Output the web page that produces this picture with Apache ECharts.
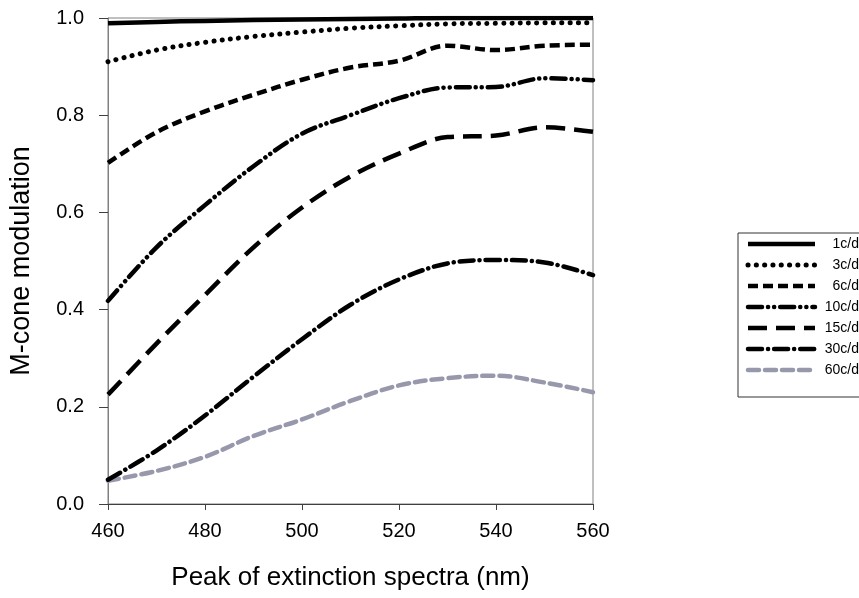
<!DOCTYPE html>
<html>
<head>
<meta charset="utf-8">
<script src="https://cdn.jsdelivr.net/npm/echarts@6/dist/echarts.min.js"></script>
<style>
  html, body { margin: 0; padding: 0; background: #fff; }
  #chart { width: 859px; height: 598px; }
</style>
</head>
<body>
<div id="chart"></div>
<script>
// Peak wavelength of the M-cone extinction spectrum (nm)
const wavelengths = [460, 470, 480, 490, 500, 510, 520, 530, 540, 550, 560];

// M-cone modulation for each spatial frequency
const seriesNames = ['1c/d', '3c/d', '6c/d', '10c/d', '15c/d', '30c/d', '60c/d'];
const mod1 = [0.989, 0.992, 0.994, 0.996, 0.997, 0.998, 0.999, 1.0, 1.0, 1.0, 1.0];
const mod3 = [0.910, 0.934, 0.950, 0.962, 0.971, 0.979, 0.984, 0.988, 0.989, 0.990, 0.990];
const mod6 = [0.702, 0.765, 0.808, 0.842, 0.873, 0.898, 0.912, 0.943, 0.934, 0.943, 0.945];
const mod10 = [0.418, 0.528, 0.615, 0.695, 0.762, 0.800, 0.835, 0.857, 0.858, 0.876, 0.872];
const mod15 = [0.225, 0.330, 0.430, 0.528, 0.610, 0.674, 0.721, 0.755, 0.758, 0.775, 0.766];
const mod30 = [0.050, 0.110, 0.182, 0.262, 0.339, 0.410, 0.462, 0.495, 0.502, 0.497, 0.471];
const mod60 = [0.048, 0.068, 0.097, 0.140, 0.174, 0.212, 0.244, 0.259, 0.264, 0.250, 0.230];
const seriesValues = [mod1, mod3, mod6, mod10, mod15, mod30, mod60];

// Tick labels
const xTicks = [460, 480, 500, 520, 540, 560];
const yTicks = [0.0, 0.2, 0.4, 0.6, 0.8, 1.0];

// Line appearance of each curve
const styles = [
  { color: '#000', width: 4.5, dash: 'solid', cap: 'butt' },
  { color: '#000', width: 5, dash: [0.1, 8.2], cap: 'round' },
  { color: '#000', width: 4.5, dash: [10, 5], cap: 'butt' },
  { color: '#000', width: 4.5, dash: [14, 6, 0.1, 6, 0.1, 6], cap: 'round' },
  { color: '#000', width: 4.5, dash: [19, 9], cap: 'butt' },
  { color: '#000', width: 4.5, dash: [14, 6, 0.1, 6], cap: 'round' },
  { color: '#9898ad', width: 4.5, dash: [11, 6], cap: 'round' }
];

const FONT = 'Liberation Sans, Arial, sans-serif';

const series = seriesNames.map((name, i) => ({
  name: name,
  type: 'line',
  smooth: 0.35,
  symbol: 'none',
  z: 10 - i,
  data: wavelengths.map((w, j) => [w, seriesValues[i][j]]),
  lineStyle: {
    color: styles[i].color,
    width: styles[i].width,
    type: styles[i].dash,
    cap: styles[i].cap,
    join: 'round'
  }
}));

// Legend box drawn with graphic elements
const legendLeft = 738, legendTop = 233, rowGap = 21, sampleX0 = 748, sampleX1 = 815, textRight = 859;
const legendChildren = [{
  type: 'rect',
  shape: { x: legendLeft, y: legendTop, width: 200, height: 164 },
  style: { fill: '#fff', stroke: '#333', lineWidth: 1 }
}];
seriesNames.forEach((name, i) => {
  const y = legendTop + 11 + i * rowGap;
  const s = styles[i];
  legendChildren.push({
    type: 'line',
    shape: { x1: sampleX0, y1: y, x2: sampleX1, y2: y },
    style: {
      stroke: s.color, lineWidth: s.width,
      lineDash: s.dash === 'solid' ? null : s.dash,
      lineCap: s.cap
    }
  });
  legendChildren.push({
    type: 'text',
    style: {
      text: name, x: textRight, y: y,
      align: 'right', verticalAlign: 'middle',
      font: '14px ' + FONT, fill: '#000'
    }
  });
});

const chart = echarts.init(document.getElementById('chart'), null, { renderer: 'canvas' });
chart.setOption({
  animation: false,
  backgroundColor: '#fff',
  grid: {
    left: 107, right: 266, top: 18, bottom: 94,
    show: true, borderColor: '#808080', borderWidth: 1, backgroundColor: 'transparent'
  },
  xAxis: {
    type: 'value', min: 460, max: 560, interval: 20,
    name: 'Peak of extinction spectra (nm)',
    nameLocation: 'middle', nameGap: 61,
    nameTextStyle: { fontFamily: FONT, fontSize: 26, color: '#000' },
    axisLine: { show: true, lineStyle: { color: '#404040', width: 1 } },
    axisTick: { show: true, inside: false, length: 6, lineStyle: { color: '#404040' } },
    axisLabel: {
      margin: 17, fontFamily: FONT, fontSize: 20, color: '#000',
      formatter: v => xTicks.includes(v) ? String(v) : ''
    },
    splitLine: { show: false }
  },
  yAxis: {
    type: 'value', min: 0, max: 1, interval: 0.2,
    name: 'M-cone modulation',
    nameLocation: 'middle', nameGap: 73,
    nameTextStyle: { fontFamily: FONT, fontSize: 27, color: '#000' },
    axisLine: { show: true, lineStyle: { color: '#808080', width: 1 } },
    axisTick: { show: true, length: 9, lineStyle: { color: '#404040' } },
    axisLabel: {
      margin: 24, fontFamily: FONT, fontSize: 20, color: '#000',
      formatter: v => {
        const t = yTicks.find(k => Math.abs(k - v) < 1e-9);
        return t === undefined ? '' : t.toFixed(1);
      }
    },
    splitLine: { show: false }
  },
  series: series,
  graphic: [{ type: 'group', children: legendChildren }]
});
</script>
</body>
</html>
